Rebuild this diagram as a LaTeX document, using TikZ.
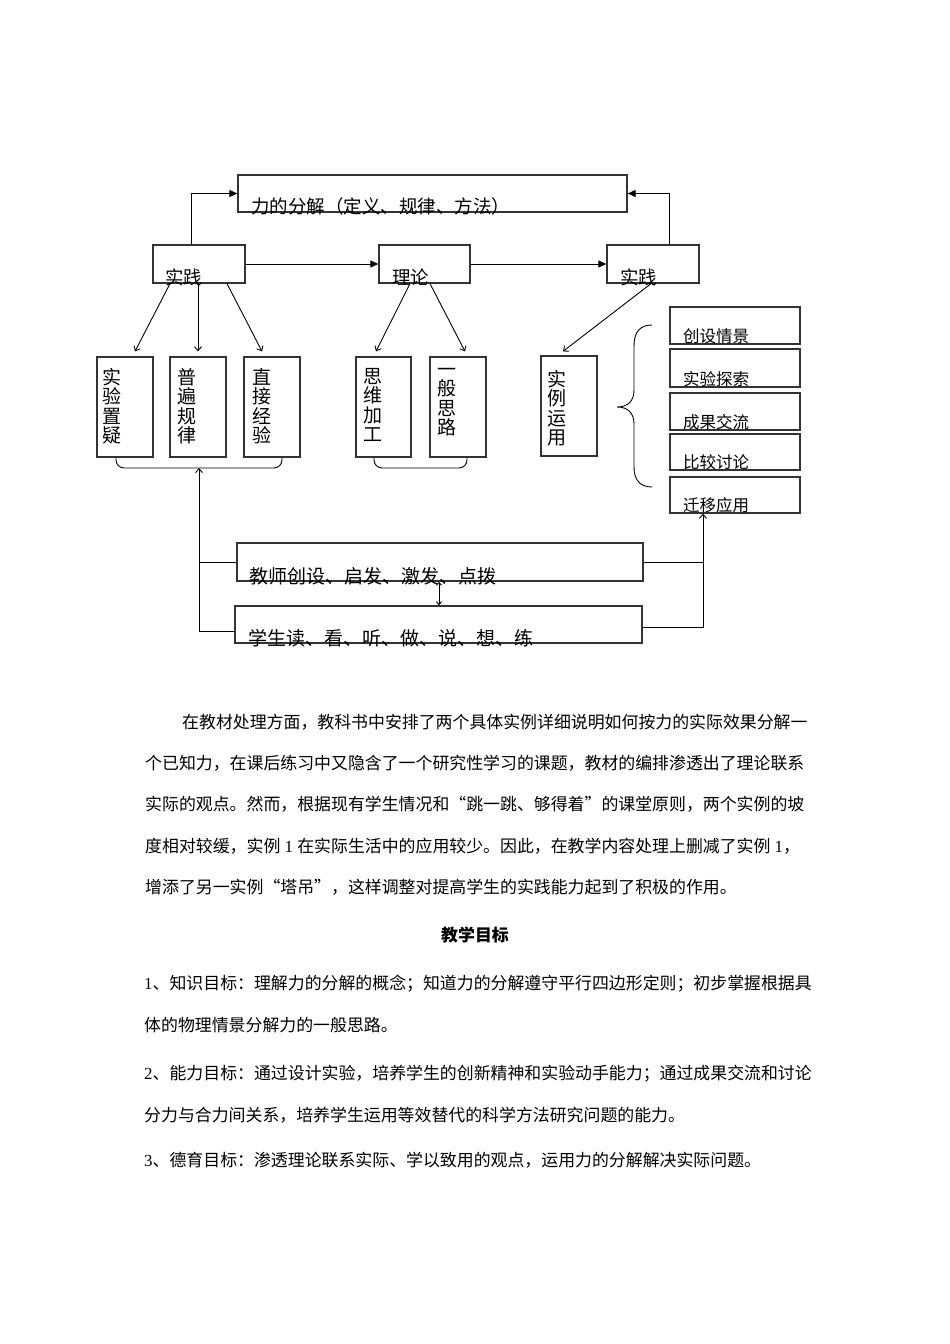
\documentclass[tikz,border=0pt]{standalone}
\usepackage{fontspec}
\setmainfont{Liberation Serif}
\newfontfamily\cjk{Noto Sans CJK SC}
\usetikzlibrary{arrows.meta,calc}
\newcommand\dg[1]{{\rmfamily #1}}
\begin{document}
\begin{tikzpicture}[x=1pt,y=-1pt,
 box/.style={draw=black!80, line width=1.3pt, inner sep=0pt},
 lab/.style={font=\cjk\fontsize{18.5pt}{19pt}\selectfont, anchor=base west, inner sep=0pt},
 vlab/.style={font=\cjk\fontsize{19pt}{19.5pt}\selectfont, anchor=north west, inner sep=0pt, align=left},
 slab/.style={font=\cjk\fontsize{16.5pt}{17pt}\selectfont, anchor=base west, inner sep=0pt},
 blab/.style={font=\cjk\fontsize{19pt}{20pt}\selectfont, anchor=base west, inner sep=0pt},
 para/.style={font=\cjk\fontsize{16.9pt}{17pt}\selectfont, anchor=base west, inner sep=0pt},
 conn/.style={line width=0.9pt},
 tri/.style={conn, -{Triangle[length=8pt,width=7pt]}},
 barb/.style={conn, -{Straight Barb[length=4pt,width=7pt]}},
 dbarb/.style={conn, {Straight Barb[length=3pt,width=5pt]}-{Straight Barb[length=3pt,width=5pt]}},
 vbox/.style={box, minimum width=56pt, minimum height=100pt},
 rbox/.style={box, minimum width=130pt}
]
\useasboundingbox (0,0) rectangle (950,1344);

% top level
\node[box, minimum width=389pt, minimum height=37pt] (top) at (432.5,193.5) {};
\node[lab] (topt) at (251,213.5) {力的分解（定义、规律、方法）};

\node[box, minimum width=92pt, minimum height=38pt] (sj1) at (199,264) {};
\node[lab] (sj1t) at (165,284.5) {实践};
\node[box, minimum width=91pt, minimum height=38pt] (ll) at (424.5,264) {};
\node[lab] (llt) at (392,284.5) {理论};
\node[box, minimum width=92pt, minimum height=38pt] (sj2) at (653,264) {};
\node[lab] (sj2t) at (620,284.5) {实践};

% vertical boxes
\node[vbox] (b1) at (125,407) {};
\node[vlab] (b1t) at (102.5,368) {实\\验\\置\\疑};
\node[vbox] (b2) at (198,407) {};
\node[vlab] (b2t) at (177,368) {普\\遍\\规\\律};
\node[vbox] (b3) at (272,407) {};
\node[vlab] (b3t) at (252,368) {直\\接\\经\\验};
\node[vbox, minimum width=55pt] (b4) at (383.5,407) {};
\node[vlab] (b4t) at (363,368) {思\\维\\加\\工};
\node[vbox] (b5) at (458,407) {};
\node[vlab] (b5t) at (437,368) {一\\般\\思\\路};
\node[vbox] (b6) at (569,406) {};
\node[vlab] (b6t) at (547,370) {实\\例\\运\\用};

% right boxes
\node[rbox, minimum height=37pt] (r1) at (735,325.5) {};
\node[slab] (r1t) at (683,342) {创设情景};
\node[rbox, minimum height=38pt] (r2) at (735,368) {};
\node[slab] (r2t) at (683,385) {实验探索};
\node[rbox, minimum height=37pt] (r3) at (735,411.5) {};
\node[slab] (r3t) at (683,428) {成果交流};
\node[rbox, minimum height=36pt] (r4) at (735,452) {};
\node[slab] (r4t) at (683,468) {比较讨论};
\node[rbox, minimum height=36pt] (r5) at (735,495) {};
\node[slab] (r5t) at (683,511) {迁移应用};

% bottom boxes
\node[box, minimum width=406pt, minimum height=38pt] (teacher) at (440,562) {};
\node[blab] (teachert) at (249,583.5) {教师创设、启发、激发、点拨};
\node[box, minimum width=407pt, minimum height=37pt] (student) at (438.5,624.5) {};
\node[blab] (studentt) at (248,645.5) {学生读、看、听、做、说、想、练};

% connectors top
\draw[tri] ([xshift=-8pt]sj1.north) |- (top.west);
\draw[tri] ([xshift=16pt]sj2.north) |- (top.east);
\draw[tri] (sj1.east) -- (ll.west);
\draw[tri] (ll.east) -- (sj2.west);

% connectors down
\draw[barb] ([xshift=-29pt]sj1.south) -- ([xshift=10pt,yshift=5pt]b1.north);
\draw[barb] (sj1.south -| b2.north) -- ([yshift=5pt]b2.north);
\draw[barb] ([xshift=28pt]sj1.south) -- ([xshift=-10pt,yshift=5pt]b3.north);
\draw[barb] ([xshift=-14.5pt]ll.south) -- ([xshift=-7.5pt,yshift=5pt]b4.north);
\draw[barb] ([xshift=5.5pt]ll.south) -- ([xshift=7pt,yshift=5pt]b5.north);
\draw[barb] ([xshift=-2pt]sj2.south) -- ([xshift=-6pt,yshift=4pt]b6.north);

% brackets under boxes
\coordinate (br1) at (199,468);
\coordinate (br2) at (420,468);
\draw[conn, rounded corners=8pt] ([xshift=-9pt]b1.south) |- (br1) -| ([xshift=10pt]b3.south);
\draw[conn, rounded corners=8pt] ([xshift=-9.5pt]b4.south) |- (br2) -| ([xshift=9pt]b5.south);

% curly brace
\draw[conn] (652,325) .. controls (640,325) and (634,332) .. (634,346)
  -- (634,390) .. controls (634,401) and (628,407) .. (617,407)
  .. controls (628,407) and (634,413) .. (634,424)
  -- (634,467) .. controls (634,480) and (640,487) .. (652,487);

% feedback loops
\draw[barb] ([yshift=-6.5pt]student.west) -| (br1);
\draw[conn] (teacher.west) -- (teacher.west -| br1);
\coordinate (rx) at ([xshift=-32pt]r5.south);
\draw[barb] ([yshift=-2.5pt]student.east) -| (rx);
\draw[conn] (teacher.east) -- (teacher.east -| rx);
\draw[dbarb] ([xshift=-1pt]teacher.south) -- ([xshift=0.5pt]student.north);

% paragraph
\node[para] (p1) at (182,728.5) {在教材处理方面，教科书中安排了两个具体实例详细说明如何按力的实际效果分解一};
\node[para] (p2) at (145,769.7) {个已知力，在课后练习中又隐含了一个研究性学习的课题，教材的编排渗透出了理论联系};
\node[para] (p3) at (145,810.9) {实际的观点。然而，根据现有学生情况和“跳一跳、够得着”的课堂原则，两个实例的坡};
\node[para] (p4) at (145,852.1) {度相对较缓，实例\dg{ 1 }在实际生活中的应用较少。因此，在教学内容处理上删减了实例\dg{ 1}，};
\node[para] (p5) at (145,893.3) {增添了另一实例“塔吊”，这样调整对提高学生的实践能力起到了积极的作用。};

\node[font=\cjk\bfseries\fontsize{16.9pt}{17pt}\selectfont, inner sep=0pt, anchor=base] (gt) at (475,941.5) {教学目标};

\node[para] (g1) at (144,989.5) {\dg{1}、知识目标：理解力的分解的概念；知道力的分解遵守平行四边形定则；初步掌握根据具};
\node[para] (g2) at (144,1031.5) {体的物理情景分解力的一般思路。};
\node[para] (g3) at (144,1079.5) {\dg{2}、能力目标：通过设计实验，培养学生的创新精神和实验动手能力；通过成果交流和讨论};
\node[para] (g4) at (144,1121.5) {分力与合力间关系，培养学生运用等效替代的科学方法研究问题的能力。};
\node[para] (g5) at (144,1166.5) {\dg{3}、德育目标：渗透理论联系实际、学以致用的观点，运用力的分解解决实际问题。};
\end{tikzpicture}
\end{document}
